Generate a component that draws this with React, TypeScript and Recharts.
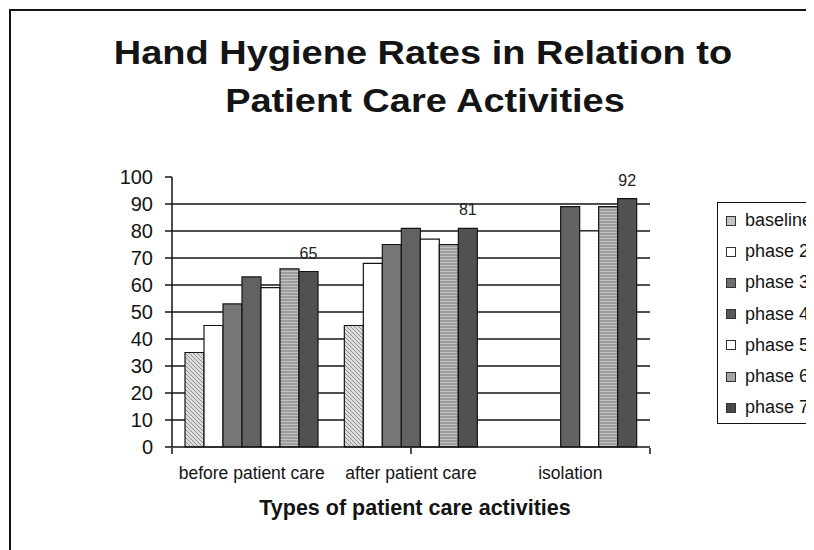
import { BarChart, Bar, XAxis, YAxis, CartesianGrid, Legend, LabelList } from "recharts";

const categories = ["before patient care", "after patient care", "isolation"];
const baseline = [35, 45, null];
const phase2 = [45, 68, null];
const phase3 = [53, 75, null];
const phase4 = [63, 81, 89];
const phase5 = [59, 77, 80];
const phase6 = [66, 75, 89];
const phase7 = [65, 81, 92];
const yTicks = [0, 10, 20, 30, 40, 50, 60, 70, 80, 90, 100];
const gridValues = [10, 20, 30, 40, 50, 60, 70, 80, 90];
const edgeTicks = [0, 1, 2, 3];

const series = [
  { key: "baseline", name: "baseline", values: baseline, fill: "url(#hatch)", swatch: "#c4c4c4" },
  { key: "phase2", name: "phase 2", values: phase2, fill: "#ffffff", swatch: "#ffffff" },
  { key: "phase3", name: "phase 3", values: phase3, fill: "#767676", swatch: "#6e6e6e" },
  { key: "phase4", name: "phase 4", values: phase4, fill: "#626262", swatch: "#5a5a5a" },
  { key: "phase5", name: "phase 5", values: phase5, fill: "#ffffff", swatch: "#ffffff" },
  { key: "phase6", name: "phase 6", values: phase6, fill: "url(#stripes)", swatch: "#a6a6a6" },
  { key: "phase7", name: "phase 7", values: phase7, fill: "#515151", swatch: "#4a4a4a" },
];

const data = categories.map((category, i) => {
  const row: Record<string, string | number | null> = { category };
  series.forEach((s) => {
    row[s.key] = s.values[i];
  });
  return row;
});

const font = "'Liberation Sans', Arial, sans-serif";
const ink = "#141414";

function LegendBox(props: any) {
  const payload = props.payload || [];
  return (
    <div
      style={{
        border: `1.5px solid ${ink}`,
        padding: "2px 0 0 8px",
        background: "#fff",
        fontFamily: font,
      }}
    >
      {payload.map((entry: any) => {
        const s = series.find((x) => x.key === entry.dataKey);
        return (
          <div
            key={entry.value}
            style={{ height: 31.2, display: "flex", alignItems: "center", whiteSpace: "nowrap" }}
          >
            <span
              style={{
                width: 8,
                height: 8,
                border: "1px solid #333",
                background: s ? s.swatch : entry.color,
                display: "inline-block",
                marginRight: 9,
              }}
            />
            <span style={{ fontSize: 18, color: ink }}>{entry.value}</span>
          </div>
        );
      })}
    </div>
  );
}

export default function App() {
  return (
    <div style={{ position: "relative", width: 806, height: 542, overflow: "hidden", background: "#fff" }}>
      <div
        style={{
          position: "absolute",
          left: 1,
          top: 1,
          width: 1000,
          height: 1000,
          borderTop: `2px solid ${ink}`,
          borderLeft: `2px solid ${ink}`,
        }}
      />
      <div style={{ position: "absolute", left: 0, top: 0 }}>
        <BarChart
          width={806}
          height={542}
          data={data}
          margin={{ top: 169, right: 164, bottom: 101, left: 104 }}
          barGap={0}
          barCategoryGap={13}
          style={{ fontFamily: font }}
        >
          <defs>
            <pattern id="hatch" width="4" height="4" patternUnits="userSpaceOnUse">
              <rect width="4" height="4" fill="#dcdcdc" />
              <path d="M0,0 L4,4 M-1,3 L1,5 M3,-1 L5,1" stroke="#8a8a8a" strokeWidth="0.9" />
            </pattern>
            <pattern id="stripes" width="4" height="3" patternUnits="userSpaceOnUse">
              <rect width="4" height="3" fill="#9c9c9c" />
              <rect y="2" width="4" height="1" fill="#c4c4c4" />
            </pattern>
          </defs>
          <text x={415} y={57} textAnchor="middle" fontSize={38} fontWeight="bold" fill={ink} transform="translate(0,5.5) scale(1,0.88)">
            Hand Hygiene Rates in Relation to
          </text>
          <text x={417} y={111} textAnchor="middle" fontSize={38} fontWeight="bold" fill={ink} transform="translate(0,6.3) scale(1,0.88)">
            Patient Care Activities
          </text>
          <text x={407} y={507} textAnchor="middle" fontSize={21.5} fontWeight="bold" fill={ink}>
            Types of patient care activities
          </text>
          <CartesianGrid horizontalValues={gridValues} vertical={false} stroke={ink} strokeWidth={1.5} />
          <XAxis
            xAxisId="cat"
            dataKey="category"
            height={1}
            tickSize={0}
            tickMargin={20}
            interval={0}
            axisLine={{ stroke: ink, strokeWidth: 1.5 }}
            tickLine={false}
            tick={{ fontSize: 17.5, fill: ink }}
          />
          <XAxis
            xAxisId="edges"
            type="number"
            domain={[0, 3]}
            ticks={edgeTicks}
            interval={0}
            allowDataOverflow
            height={1}
            tickSize={6}
            axisLine={false}
            tickLine={{ stroke: ink, strokeWidth: 1.5 }}
            tickFormatter={() => ""}
          />
          <YAxis
            domain={[0, 100]}
            ticks={yTicks}
            interval={0}
            width={60}
            tickSize={7}
            tickMargin={12}
            axisLine={{ stroke: ink, strokeWidth: 1.5 }}
            tickLine={{ stroke: ink, strokeWidth: 1.5 }}
            tick={{ fontSize: 20, fill: ink }}
          />
          <Legend
            layout="vertical"
            align="center"
            verticalAlign="middle"
            wrapperStyle={{ left: 709, top: 194, width: 130 }}
            content={<LegendBox />}
          />
          {series.map((s) => (
            <Bar
              key={s.key}
              xAxisId="cat"
              dataKey={s.key}
              name={s.name}
              fill={s.fill}
              stroke={ink}
              strokeWidth={1.2}
              isAnimationActive={false}
            >
              {s.key === "phase7" && (
                <LabelList dataKey="phase7" position="top" offset={13} fontSize={16} fill="#222" />
              )}
            </Bar>
          ))}
        </BarChart>
      </div>
    </div>
  );
}
